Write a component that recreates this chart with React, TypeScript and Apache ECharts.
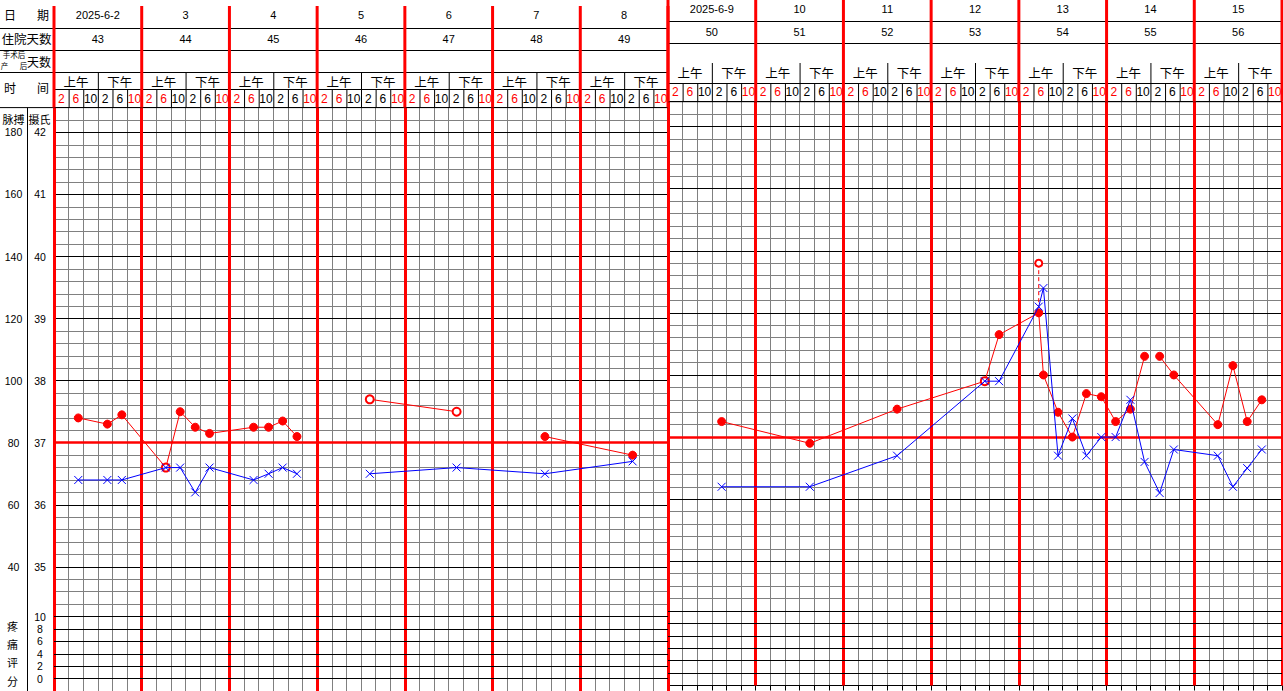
import React, { useEffect, useRef } from 'react';
import * as echarts from 'echarts';

// ---------------- data ----------------
const leftDates = ['2025-6-2', '3', '4', '5', '6', '7', '8'];
const leftStayDays = ['43', '44', '45', '46', '47', '48', '49'];
const rightDates = ['2025-6-9', '10', '11', '12', '13', '14', '15'];
const rightStayDays = ['50', '51', '52', '53', '54', '55', '56'];
const halfDayLabels = ['上午', '下午'];
const hourLabels = ['2', '6', '10', '2', '6', '10'];
const hourIsRed = [true, true, false, false, false, true];

const tempTicks = [42, 41, 40, 39, 38, 37, 36, 35];
const pulseTicks = [180, 160, 140, 120, 100, 80, 60, 40];
const painTicks = [10, 8, 6, 4, 2, 0];

// measurement times, in 4-hour slots from 0:00 of the week's first day
const leftTime = [1.66, 3.65, 4.64, 7.65, 8.63, 9.66, 10.64, 13.65, 14.68, 15.64, 16.62, 21.6, 27.54, 33.58, 39.58];
const leftPulse = [88, 86, 89, 72, 90, 85, 83, 85, 85, 87, 82, 94, 90, 82, 76];
const leftPulseCircled = [false, false, false, true, false, false, false, false, false, false, false, true, true, false, false];
const leftPulseBreaks = [11, 13];
const leftTemp = [36.4, 36.4, 36.4, 36.6, 36.6, 36.2, 36.6, 36.4, 36.5, 36.6, 36.5, 36.5, 36.6, 36.5, 36.7];
const leftTempBreaks = [11];

const rightTime = [3.67, 9.7, 15.67, 21.67, 22.65, 25.36, 25.68, 26.68, 27.66, 28.62, 29.64, 30.62, 31.63, 32.6, 33.63, 34.6, 37.61, 38.64, 39.62, 40.62];
const rightPulse = [85, 78, 89, 98, 113, 120, 100, 88, 80, 94, 93, 85, 89, 106, 106, 100, 84, 103, 85, 92];
const rightPulseCircled = [false, false, false, true, false, false, false, false, false, false, false, false, false, false, false, false, false, false, false, false];
const rightPulseBreaks = [14];
const rightTemp = [36.2, 36.2, 36.7, 37.9, 37.9, 39.1, 39.4, 36.7, 37.3, 36.7, 37.0, 37.0, 37.6, 36.6, 36.1, 36.8, 36.7, 36.2, 36.5, 36.8];
const rightTempBreaks: number[] = [];

// physical cooling re-check (red circle, dashed to the measured temperature)
const coolTime = [25.36, 25.36];
const coolTemp = [39.8, 39.1];

// ---------------- layout / style ----------------
const W = 1283;
const H = 691;
const RED = '#ff0000';
const BLUE = '#0000ff';
const GRAY = '#808080';
const BLACK = '#000000';
const NUM_FONT = '"Liberation Sans", Arial, sans-serif';
const CJK = '"Noto Sans CJK SC", sans-serif';
const T_MIN = 33;
const T_MAX = 42.4;
const GRID_H = 583.8;
const SLOTS = 42;
const painToTemp = (p: number) => 33.2 + p * 0.1;
const tempToPulse = (t: number) => 80 + (t - 37) * 20;

const PANELS = [
  {
    x0: 54, width: 614, top: 107.6, redTop: 6, rows: [28.5, 50.5, 72.5], halfTop: 72.5, hourTop: 89.5,
    dateY: 14.5, stayY: 38.5, halfY: 81, hourY: 98.5, lineStart: 0, dates: leftDates, stays: leftStayDays,
  },
  {
    x0: 668, width: 614, top: 101.7, redTop: 0, rows: [21.5, 43.5], halfTop: 63, hourTop: 83.5,
    dateY: 9, stayY: 32, halfY: 72.5, hourY: 92, lineStart: 668, dates: rightDates, stays: rightStayDays,
  },
];

const CROSS = 'path://M0,0L10,10M10,0L0,10';

function buildLine(times: number[], values: number[], breaks: number[], circled?: boolean[]) {
  const out: any[] = [];
  times.forEach((t, i) => {
    if (breaks.includes(i)) out.push([(times[i - 1] + t) / 2, '-']);
    const item: any = { value: [t, values[i]] };
    if (circled && circled[i]) {
      item.symbol = 'emptyCircle';
      item.symbolSize = 8;
    }
    out.push(item);
  });
  return out;
}

function text(x: number, y: number, s: string, size: number, fill = BLACK, family = NUM_FONT) {
  return {
    type: 'text', x, y, z: 20, silent: true,
    style: { text: s, fill, font: `${size}px ${family}`, textAlign: 'center', textVerticalAlign: 'middle' },
  };
}
function line(x1: number, y1: number, x2: number, y2: number, stroke = BLACK, w = 1) {
  return { type: 'line', z: 19, silent: true, shape: { x1, y1, x2, y2 }, style: { stroke, lineWidth: w } };
}

function buildGraphics() {
  const els: any[] = [];
  PANELS.forEach((p) => {
    const dayW = p.width / 7;
    const slotW = p.width / SLOTS;
    const x1 = p.x0 + p.width;
    p.rows.forEach((y) => els.push(line(p.lineStart, y, x1, y)));
    els.push(line(p.x0, p.hourTop, x1, p.hourTop));
    els.push(line(p.lineStart, p.top, x1, p.top));
    for (let d = 0; d < 7; d++) {
      const dx = p.x0 + d * dayW;
      els.push(text(dx + dayW / 2, p.dateY, p.dates[d], 11));
      els.push(text(dx + dayW / 2, p.stayY, p.stays[d], 11));
      halfDayLabels.forEach((h, k) => els.push(text(dx + (dayW / 2) * (k + 0.5), p.halfY, h, 12.5, BLACK, CJK)));
      els.push(line(dx + dayW / 2 + 0.5, p.halfTop, dx + dayW / 2 + 0.5, p.hourTop));
      hourLabels.forEach((h, s) => {
        els.push(text(dx + (s + 0.5) * slotW, p.hourY, h, 12, hourIsRed[s] ? RED : BLACK));
        if (s > 0) els.push(line(dx + s * slotW + 0.5, p.hourTop, dx + s * slotW + 0.5, p.top));
      });
    }
    for (let d = 0; d <= 7; d++) {
      const dx = p.x0 + d * dayW;
      els.push(line(dx, p.redTop, dx, p.top, RED, 3));
    }
  });
  // left label column
  els.push(text(10, 14.5, '日', 12, BLACK, CJK));
  els.push(text(43, 14.5, '期', 12, BLACK, CJK));
  els.push(text(26.5, 38.5, '住院天数', 12.5, BLACK, CJK));
  els.push(text(14, 54, '手术后', 7.5, BLACK, CJK));
  els.push(text(4.5, 65, '产', 7.5, BLACK, CJK));
  els.push(text(23.5, 65, '后', 7.5, BLACK, CJK));
  els.push(text(39, 61, '天数', 12, BLACK, CJK));
  els.push(text(10, 87.5, '时', 12, BLACK, CJK));
  els.push(text(43, 87.5, '间', 12, BLACK, CJK));
  els.push(text(13.5, 118.5, '脉搏', 11, BLACK, CJK));
  els.push(text(39.5, 118.5, '摄氏', 11, BLACK, CJK));
  ['疼', '痛', '评', '分'].forEach((c, i) => els.push(text(12.5, [626, 644, 662, 681][i], c, 11, BLACK, CJK)));
  els.push(line(27.5, PANELS[0].top, 27.5, H));
  return els;
}

export default function App() {
  const ref = useRef<HTMLDivElement>(null);
  useEffect(() => {
    if (!ref.current) return;
    const chart = echarts.init(ref.current, undefined, { renderer: 'svg' });

    const tempFormatter = (v: number) => {
      const n = Math.round(v * 10);
      if (n % 10 === 0 && tempTicks.includes(n / 10)) return String(n / 10);
      for (const p of painTicks) if (Math.round(painToTemp(p) * 10) === n) return String(p);
      return '';
    };
    const pulseFormatter = (v: number) => (pulseTicks.includes(Math.round(v)) ? String(Math.round(v)) : '');

    const xAxis: any[] = [];
    const yAxis: any[] = [];
    PANELS.forEach((p, i) => {
      xAxis.push({
        gridIndex: i, type: 'value', min: 0, max: SLOTS, interval: 1, position: 'bottom', z: 0,
        axisLine: { show: i === 1, lineStyle: { color: BLACK, width: 1 } },
        axisTick: { show: i === 1, length: 5, lineStyle: { color: BLACK } },
        axisLabel: { show: false },
        splitLine: { show: true, lineStyle: { color: GRAY, width: 1 } },
      });
      xAxis.push({
        gridIndex: i, type: 'value', min: 0, max: SLOTS, interval: 6, position: 'top', z: 2,
        axisLine: { show: false }, axisTick: { show: false }, axisLabel: { show: false },
        splitLine: { show: true, lineStyle: { color: RED, width: 3 } },
      });
      yAxis.push({
        gridIndex: i, type: 'value', min: T_MIN, max: T_MAX, interval: 0.2, position: 'left', z: 0,
        axisLine: { show: false }, axisTick: { show: false },
        axisLabel: i === 0
          ? { show: true, formatter: tempFormatter, margin: 14, align: 'center', color: BLACK, fontSize: 10.5, fontFamily: NUM_FONT }
          : { show: false },
        splitLine: { show: true, lineStyle: { color: GRAY, width: 1 } },
      });
      yAxis.push({
        gridIndex: i, type: 'value', min: T_MIN, max: T_MAX, interval: 1, position: 'right', z: 1,
        axisLine: { show: false }, axisTick: { show: false }, axisLabel: { show: false },
        splitLine: { show: true, lineStyle: { color: BLACK, width: 1 } },
      });
      yAxis.push({
        gridIndex: i, type: 'value', min: tempToPulse(T_MIN), max: tempToPulse(T_MAX), interval: 20, position: 'left', z: 0,
        axisLine: { show: false }, axisTick: { show: false },
        axisLabel: i === 0
          ? { show: true, formatter: pulseFormatter, margin: 40.5, align: 'center', color: BLACK, fontSize: 10.5, fontFamily: NUM_FONT }
          : { show: false },
        splitLine: { show: false },
      });
    });

    const series: any[] = [];
    const panelData = [
      { time: leftTime, pulse: leftPulse, circled: leftPulseCircled, pb: leftPulseBreaks, temp: leftTemp, tb: leftTempBreaks },
      { time: rightTime, pulse: rightPulse, circled: rightPulseCircled, pb: rightPulseBreaks, temp: rightTemp, tb: rightTempBreaks },
    ];
    PANELS.forEach((p, i) => {
      const xi = i * 2;
      const yt = i * 3;
      const yp = i * 3 + 2;
      series.push({
        type: 'line', xAxisIndex: xi, yAxisIndex: yt, data: [], z: 1, silent: true,
        markLine: {
          silent: true, symbol: ['none', 'none'], label: { show: false },
          lineStyle: { color: BLACK, width: 1, type: 'solid' },
          data: painTicks.map((v) => ({ yAxis: painToTemp(v) })),
        },
      });
      series.push({
        type: 'line', xAxisIndex: xi, yAxisIndex: yt, data: [], z: 3, silent: true,
        markLine: {
          silent: true, symbol: ['none', 'none'], label: { show: false },
          lineStyle: { color: RED, width: 2.5, type: 'solid' },
          data: [{ yAxis: 37 }],
        },
      });
      const d = panelData[i];
      series.push({
        name: '脉搏', type: 'line', xAxisIndex: xi, yAxisIndex: yp, z: 5,
        data: buildLine(d.time, d.pulse, d.pb, d.circled),
        symbol: 'circle', symbolSize: 8, connectNulls: false,
        itemStyle: { color: RED, borderColor: RED },
        lineStyle: { color: RED, width: 1 },
      });
      series.push({
        name: '体温', type: 'line', xAxisIndex: xi, yAxisIndex: yt, z: 6,
        data: buildLine(d.time, d.temp, d.tb),
        symbol: CROSS, symbolSize: 8, connectNulls: false,
        itemStyle: { color: BLUE, borderColor: BLUE, borderWidth: 1 },
        lineStyle: { color: BLUE, width: 1 },
      });
    });
    series.push({
      name: '降温', type: 'line', xAxisIndex: 2, yAxisIndex: 3, z: 5,
      data: [
        { value: [coolTime[0], coolTemp[0]], symbol: 'emptyCircle', symbolSize: 7 },
        { value: [coolTime[1], coolTemp[1]], symbol: 'none' },
      ],
      itemStyle: { color: RED },
      lineStyle: { color: RED, width: 1, type: [4, 3] },
    });

    chart.setOption({
      animation: false,
      backgroundColor: '#ffffff',
      grid: PANELS.map((p) => ({ left: p.x0, top: p.top, width: p.width, height: GRID_H })),
      xAxis,
      yAxis,
      series,
      graphic: { elements: buildGraphics() },
    });
    return () => chart.dispose();
  }, []);
  return <div ref={ref} style={{ position: 'absolute', left: 0, top: 0, width: W, height: H }} />;
}
